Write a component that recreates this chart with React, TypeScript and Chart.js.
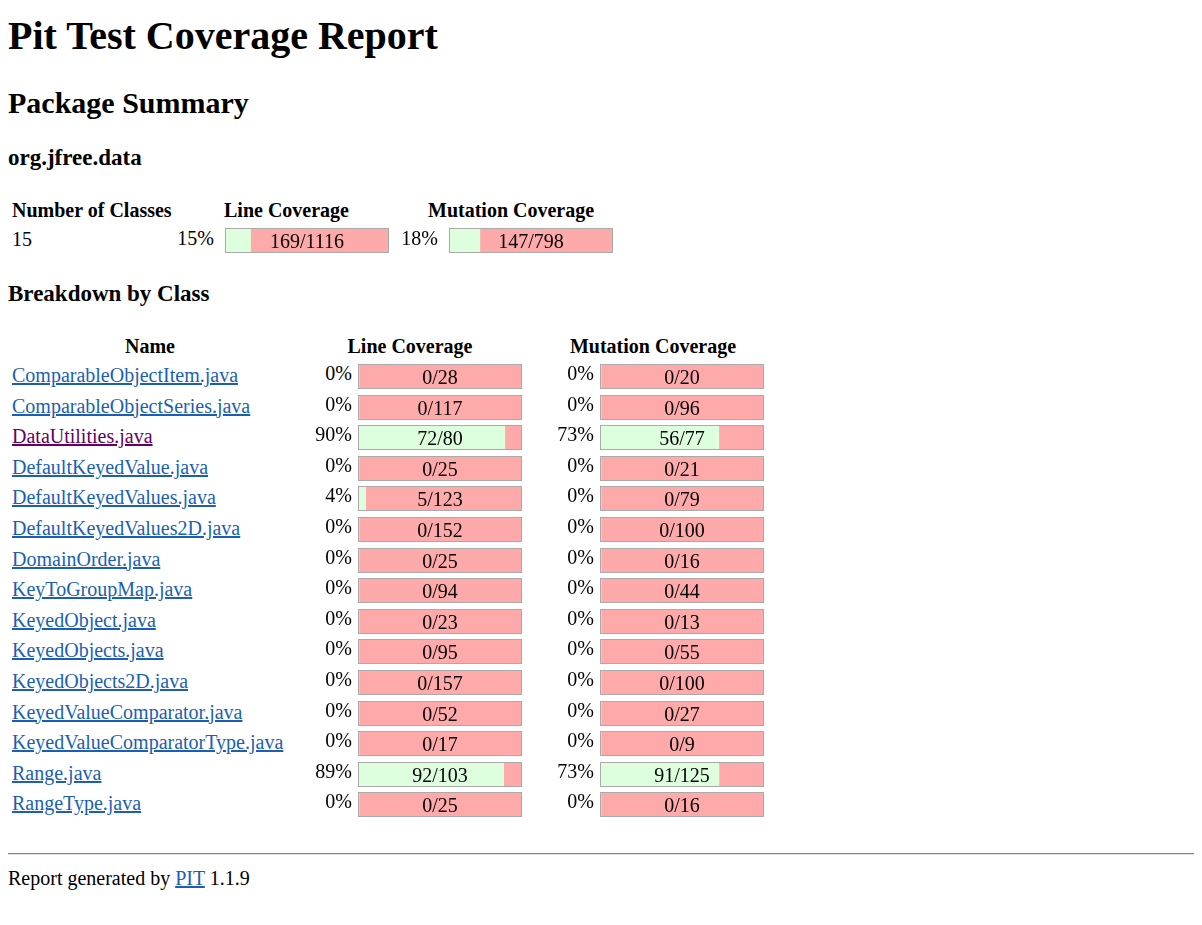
import { useEffect, useRef } from "react";
import { Chart, registerables } from "chart.js";

Chart.register(...registerables);

const classNames = [
  "ComparableObjectItem.java",
  "ComparableObjectSeries.java",
  "DataUtilities.java",
  "DefaultKeyedValue.java",
  "DefaultKeyedValues.java",
  "DefaultKeyedValues2D.java",
  "DomainOrder.java",
  "KeyToGroupMap.java",
  "KeyedObject.java",
  "KeyedObjects.java",
  "KeyedObjects2D.java",
  "KeyedValueComparator.java",
  "KeyedValueComparatorType.java",
  "Range.java",
  "RangeType.java",
];
const lineCovered = [0, 0, 72, 0, 5, 0, 0, 0, 0, 0, 0, 0, 0, 92, 0];
const lineTotal = [28, 117, 80, 25, 123, 152, 25, 94, 23, 95, 157, 52, 17, 103, 25];
const mutCovered = [0, 0, 56, 0, 0, 0, 0, 0, 0, 0, 0, 0, 0, 91, 0];
const mutTotal = [20, 96, 77, 21, 79, 100, 16, 44, 13, 55, 100, 27, 9, 125, 16];
const summaryClasses = 15;
const summaryLine = [169, 1116];
const summaryMut = [147, 798];

const FONT = "'Liberation Serif', 'Times New Roman', serif";

const CoverageBar = ({ covered, total, x, y }: { covered: number; total: number; x: number; y: number }) => {
  const ref = useRef<HTMLCanvasElement | null>(null);
  useEffect(() => {
    if (!ref.current) return;
    const chart = new Chart(ref.current, {
      type: "bar",
      data: {
        labels: [""],
        datasets: [
          { data: [covered], backgroundColor: "#DDFFDD", barPercentage: 1, categoryPercentage: 1 },
          { data: [total - covered], backgroundColor: "#FFAAAA", barPercentage: 1, categoryPercentage: 1 },
        ],
      },
      options: {
        indexAxis: "y",
        animation: false,
        responsive: false,
        devicePixelRatio: 1,
        layout: { padding: 0 },
        plugins: { legend: { display: false }, tooltip: { enabled: false } },
        scales: {
          x: { stacked: true, display: false, min: 0, max: total },
          y: { stacked: true, display: false },
        },
      },
    });
    return () => chart.destroy();
  }, [covered, total]);
  return (
    <div style={{ position: "absolute", left: x, top: y, width: 164, height: 25, border: "1px solid #AAA", boxSizing: "border-box" }}>
      <canvas ref={ref} width={162} height={23} style={{ display: "block" }} />
      <div style={{ position: "absolute", left: 0, top: 0, width: "100%", height: "100%", textAlign: "center", lineHeight: "24px", fontSize: 20 }}>
        {covered}/{total}
      </div>
    </div>
  );
};

const pct = (c: number, t: number) => Math.round((c / t) * 100) + "%";

const Txt = (p: { x: number; y: number; size?: number; bold?: boolean; right?: boolean; center?: boolean; w?: number; color?: string; u?: boolean; children: any }) => (
  <div
    style={{
      position: "absolute",
      left: p.x,
      top: p.y - 15,
      width: p.w,
      height: 30,
      lineHeight: "30px",
      fontSize: p.size ?? 20,
      fontWeight: p.bold ? "bold" : "normal",
      textAlign: p.right ? "right" : p.center ? "center" : "left",
      color: p.color ?? "#000",
      textDecoration: p.u ? "underline" : "none",
      whiteSpace: "nowrap",
    }}
  >
    {p.children}
  </div>
);

export default function App() {
  const rowY = (i: number) => 373 + i * 30.6;
  return (
    <div style={{ position: "relative", width: 1202, height: 917, margin: -8, fontFamily: FONT, background: "#fff", borderTop: "2px solid #444" }}>
      <Txt x={8} y={34} size={40} bold>Pit Test Coverage Report</Txt>
      <Txt x={8} y={101} size={30} bold>Package Summary</Txt>
      <Txt x={8} y={156} size={23} bold>org.jfree.data</Txt>

      <Txt x={12} y={208} bold>Number of Classes</Txt>
      <Txt x={224} y={208} bold>Line Coverage</Txt>
      <Txt x={428} y={208} bold>Mutation Coverage</Txt>
      <Txt x={12} y={237}>{summaryClasses}</Txt>
      <Txt x={100} w={114} y={236} right>{pct(summaryLine[0], summaryLine[1])}</Txt>
      <CoverageBar covered={summaryLine[0]} total={summaryLine[1]} x={225} y={226} />
      <Txt x={360} w={78} y={236} right>{pct(summaryMut[0], summaryMut[1])}</Txt>
      <CoverageBar covered={summaryMut[0]} total={summaryMut[1]} x={449} y={226} />

      <Txt x={8} y={292} size={23} bold>Breakdown by Class</Txt>
      <Txt x={12} w={276} y={344} center bold>Name</Txt>
      <Txt x={300} w={220} y={344} center bold>Line Coverage</Txt>
      <Txt x={543} w={220} y={344} center bold>Mutation Coverage</Txt>

      {classNames.map((n, i) => (
        <div key={n}>
          <Txt x={12} y={rowY(i)} u color={i === 2 ? "#660066" : "#1a5fb4"}>{n}</Txt>
          <Txt x={290} w={62} y={rowY(i) - 2} right>{pct(lineCovered[i], lineTotal[i])}</Txt>
          <CoverageBar covered={lineCovered[i]} total={lineTotal[i]} x={358} y={rowY(i) - 11} />
          <Txt x={530} w={64} y={rowY(i) - 2} right>{pct(mutCovered[i], mutTotal[i])}</Txt>
          <CoverageBar covered={mutCovered[i]} total={mutTotal[i]} x={600} y={rowY(i) - 11} />
        </div>
      ))}

      <div style={{ position: "absolute", left: 8, top: 851, width: 1190, borderTop: "1px solid #888", borderBottom: "1px solid #ddd" }} />
      <Txt x={8} y={876}>
        Report generated by <span style={{ color: "#1a5fb4", textDecoration: "underline" }}>PIT</span> 1.1.9
      </Txt>
    </div>
  );
}
